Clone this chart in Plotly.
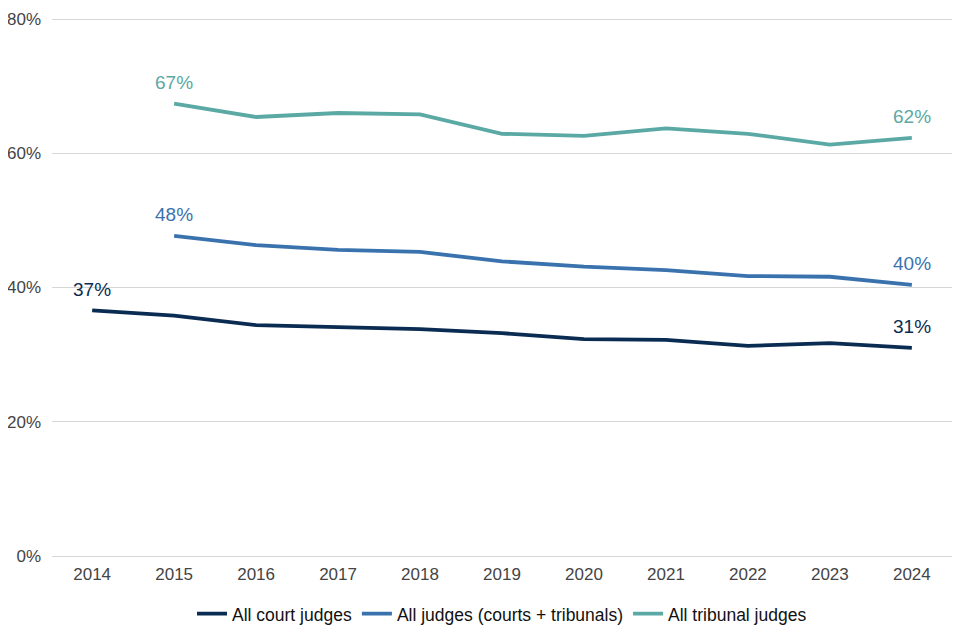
import plotly.graph_objects as go

years = [2014, 2015, 2016, 2017, 2018, 2019, 2020, 2021, 2022, 2023, 2024]
court = [36.6, 35.8, 34.4, 34.1, 33.8, 33.2, 32.3, 32.2, 31.3, 31.7, 31.0]
all_judges = [None, 47.7, 46.3, 45.6, 45.3, 43.9, 43.1, 42.6, 41.7, 41.6, 40.4]
tribunal = [None, 67.4, 65.4, 66.0, 65.8, 62.9, 62.6, 63.7, 62.9, 61.3, 62.3]

series = [
    ("All court judges", court, "#0b2c52"),
    ("All judges (courts + tribunals)", all_judges, "#3a72ae"),
    ("All tribunal judges", tribunal, "#5ba9a4"),
]

FONT = "Liberation Sans, Arial, Helvetica"

fig = go.Figure()
annotations = []
for name, vals, color in series:
    fig.add_trace(go.Scatter(x=years, y=vals, mode="lines", name=name,
                             line=dict(color=color, width=3.8),
                             connectgaps=False, hoverinfo="skip"))
    pts = [(x, v) for x, v in zip(years, vals) if v is not None]
    for x, v in (pts[0], pts[-1]):
        annotations.append(dict(x=x, y=v, text=f"{round(v)}%", showarrow=False,
                                xref="x", yref="y", yshift=21,
                                font=dict(color=color, size=19, family=FONT)))

fig.update_layout(
    width=960, height=640,
    margin=dict(l=44, r=16, t=10, b=92, autoexpand=False),
    paper_bgcolor="white", plot_bgcolor="white",
    font=dict(family=FONT, size=17, color="#444444"),
    annotations=annotations,
    showlegend=True,
    legend=dict(orientation="h", x=0.5, xanchor="center", y=-0.074, yanchor="top",
                font=dict(size=17.5, color="#111111"), itemwidth=30),
    xaxis=dict(range=[2013.51, 2024.49], tickmode="array", tickvals=years,
               ticktext=[str(y) for y in years], showgrid=False, zeroline=False,
               showline=False, ticks="", automargin=False, ticklabelstandoff=6,
               tickfont=dict(size=17, color="#444444")),
    yaxis=dict(range=[0, 80.15], tickvals=[0, 20, 40, 60, 80],
               ticktext=["0%", "20%", "40%", "60%", "80%"],
               showgrid=True, gridcolor="#d6d6d6", gridwidth=1,
               zeroline=True, zerolinecolor="#d6d6d6", zerolinewidth=1,
               ticks="", automargin=False, ticklabelstandoff=10,
               tickfont=dict(size=17, color="#444444")),
)

fig.write_html("out.html")
